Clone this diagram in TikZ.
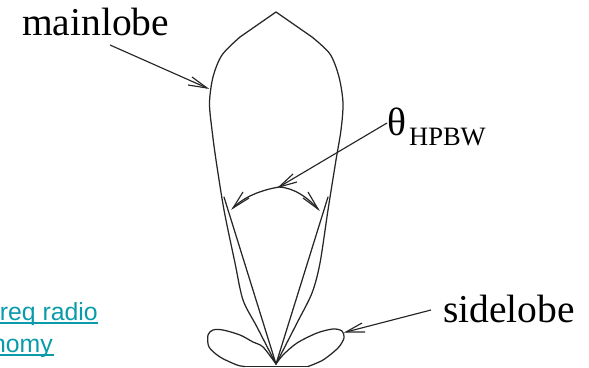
\documentclass[tikz,border=0pt]{standalone}
\usepackage{fontspec}
\setmainfont{Liberation Serif}
\newfontfamily\linkfont{Liberation Sans}
\definecolor{linkteal}{RGB}{10,155,170}
\tikzset{
  curve/.style={line width=1.25pt,draw=black!85,line join=round,line cap=round},
  pointer/.style={line width=1.15pt,draw=black!85,line join=miter},
  biglabel/.style={inner sep=0pt,anchor=base west,font=\fontsize{39.5}{40}\selectfont,text=black},
  sublabel/.style={inner sep=0pt,anchor=base west,font=\fontsize{26.5}{27}\selectfont,text=black},
  linklabel/.style={inner sep=0pt,anchor=base east,font=\linkfont\fontsize{24.8}{25}\selectfont,text=linkteal},
  linkrule/.style={line width=2pt,draw=linkteal}
}
\begin{document}
\begin{tikzpicture}[x=1pt,y=-1pt]
\useasboundingbox (0,0) rectangle (589,367);
% labels
\node[biglabel] (main) at (22,35) {mainlobe};
\node[biglabel] (side) at (443,322) {sidelobe};
\node[biglabel] (theta) at (387,135) {θ};
\node[sublabel] (hpbw) at (409,145) {HPBW};
\node[linklabel] (link1) at (98,320) {req radio};
\node[linklabel] (link2) at (53,352) {nomy};
\coordinate (u1a) at (0,323); \coordinate (u1b) at (98,323);
\coordinate (u2a) at (0,355); \coordinate (u2b) at (54,355);
\draw[linkrule] (u1a) -- (u1b);
\draw[linkrule] (u2a) -- (u2b);
% pattern
\coordinate (origin) at (276,364);
\coordinate (apex) at (276,12);
\draw[curve] plot[smooth,tension=0.5] coordinates {(276,364) (257,327) (243,300) (235,263) (224,210) (216,160) (212,130) (209.5,103) (213,77) (222,55) (240,37)};
\draw[curve] (240,37) -- (apex);
\draw[curve] plot[smooth,tension=0.5] coordinates {(276,364) (297,323) (312,293) (320,263) (328,210) (336,160) (341,130) (343,103) (339,77) (330,54) (312,37)};
\draw[curve] (312,37) -- (apex);
\coordinate (innerL) at (224,197);
\coordinate (innerR) at (328,197);
\draw[curve] (innerL) -- (origin);
\draw[curve] (innerR) -- (origin);
% side lobes
\draw[curve] plot[smooth,tension=0.5] coordinates {(276,364) (263,347) (253,342) (240,335) (223,330) (213,330) (208,335) (209,347) (220,357) (237,365) (245,366.5)};
\draw[curve] plot[smooth,tension=0.5] coordinates {(276,364) (283,355) (297,343) (317,333) (333,329) (342,331) (344,338) (338,348) (323,360) (308,366.5)};
\draw[curve] (245,366.5) -- (308,366.5);
% beamwidth arc
\coordinate (tipL) at (233,208);
\coordinate (tipR) at (318,209);
\coordinate (tipC) at (279,187);
\coordinate (thetaEnd) at (387,123);
\coordinate (mainEnd) at (207,88);
\coordinate (mainStart) at (110,45);
\coordinate (sideEnd) at (346,332);
\coordinate (sideStart) at (431,310);
\draw[curve] (tipL) .. controls (245,196) and (262,190) .. (tipC)
  .. controls (295,188) and (308,198) .. (tipR);
\draw[pointer] (thetaEnd) -- (tipC);
\draw[pointer] (mainStart) -- (mainEnd);
\draw[pointer] (sideStart) -- (sideEnd);
% open arrowheads
\draw[pointer] (243,192) -- (tipL) -- (249,198);
\draw[pointer] (308,192) -- (tipR) -- (303,198);
\draw[pointer] (293,174) -- (tipC) -- (297,182);
\draw[pointer] (192,77) -- (mainEnd) -- (188,85);
\draw[pointer] (362,323) -- (sideEnd) -- (365,332);
\end{tikzpicture}
\end{document}
